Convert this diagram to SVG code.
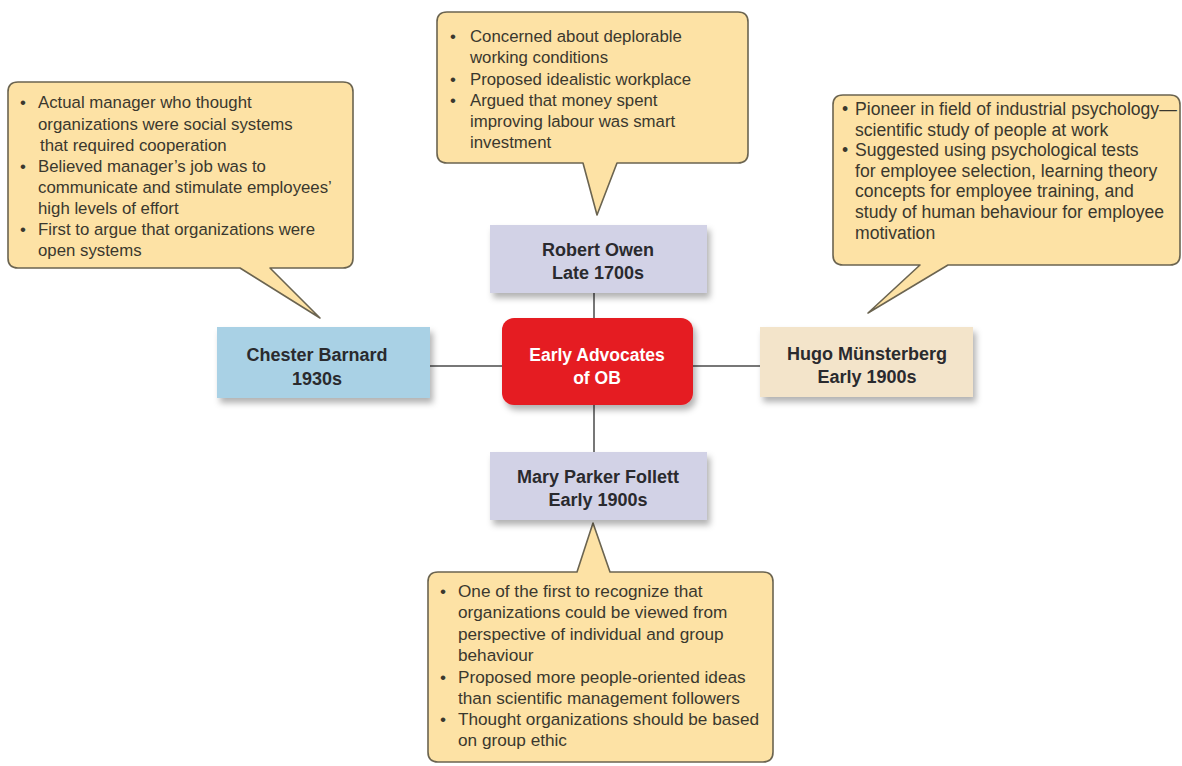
<svg xmlns="http://www.w3.org/2000/svg" width="1182" height="766" viewBox="0 0 1182 766">
<defs>
<filter id="sh" x="-10%" y="-10%" width="130%" height="140%">
<feDropShadow dx="3" dy="5" stdDeviation="3" flood-color="#000" flood-opacity="0.3"/>
</filter>
<style>
.callout{fill:#fde2a5;stroke:#6b6450;stroke-width:1.6;stroke-linejoin:round}
.ct{font-family:"Liberation Sans",Arial,sans-serif;font-size:16.8px;fill:#3a382e}
.nt{font-family:"Liberation Sans",Arial,sans-serif;font-size:18px;font-weight:bold;fill:#2a2a2e;text-anchor:middle}
.conn{stroke:#4a4a4a;stroke-width:1.5;fill:none}
</style>
</defs>
<rect width="1182" height="766" fill="#ffffff"/>

<g id="connectors">
<line class="conn" x1="430" y1="366" x2="502" y2="366"/>
<line class="conn" x1="693" y1="366" x2="760" y2="366"/>
<line class="conn" x1="594" y1="293" x2="594" y2="318"/>
<line class="conn" x1="594" y1="405" x2="594" y2="452"/>
</g>

<g id="callout-owen">
<path class="callout" d="M447,12 H738 Q748,12 748,22 V153 Q748,163 738,163 H617 L597,215 L583,163 H447 Q437,163 437,153 V22 Q437,12 447,12 Z"/>
<text class="ct"><tspan x="450" y="42">•</tspan><tspan x="470" y="42">Concerned about deplorable</tspan><tspan x="470" y="63">working conditions</tspan><tspan x="450" y="85">•</tspan><tspan x="470" y="85">Proposed idealistic workplace</tspan><tspan x="450" y="106">•</tspan><tspan x="470" y="106">Argued that money spent</tspan><tspan x="470" y="127">improving labour was smart</tspan><tspan x="470" y="148">investment</tspan></text>
</g>

<g id="callout-barnard">
<path class="callout" d="M18,82 H343 Q353,82 353,92 V258 Q353,268 343,268 H270 L320,318 L240,268 H18 Q8,268 8,258 V92 Q8,82 18,82 Z"/>
<text class="ct"><tspan x="20" y="108">•</tspan><tspan x="38" y="108">Actual manager who thought</tspan><tspan x="38" y="130">organizations were social systems</tspan><tspan x="40" y="151">that required cooperation</tspan><tspan x="20" y="172">•</tspan><tspan x="38" y="172">Believed manager’s job was to</tspan><tspan x="38" y="193">communicate and stimulate employees’</tspan><tspan x="38" y="214">high levels of effort</tspan><tspan x="20" y="235">•</tspan><tspan x="38" y="235">First to argue that organizations were</tspan><tspan x="38" y="256">open systems</tspan></text>
</g>

<g id="callout-munsterberg">
<path class="callout" d="M843,95 H1170 Q1180,95 1180,105 V255 Q1180,265 1170,265 H948 L868,313 L920,265 H843 Q833,265 833,255 V105 Q833,95 843,95 Z"/>
<text class="ct" style="font-size:17.6px"><tspan x="842" y="115">•</tspan><tspan x="855" y="115">Pioneer in field of industrial psychology—</tspan><tspan x="855" y="136">scientific study of people at work</tspan><tspan x="842" y="156">•</tspan><tspan x="855" y="156">Suggested using psychological tests</tspan><tspan x="855" y="177">for employee selection, learning theory</tspan><tspan x="855" y="197">concepts for employee training, and</tspan><tspan x="855" y="218">study of human behaviour for employee</tspan><tspan x="855" y="239">motivation</tspan></text>
</g>

<g id="callout-follett">
<path class="callout" d="M438,572 H577 L593,523 L610,572 H763 Q773,572 773,582 V752 Q773,762 763,762 H438 Q428,762 428,752 V582 Q428,572 438,572 Z"/>
<text class="ct" style="font-size:17.2px"><tspan x="440" y="597">•</tspan><tspan x="458" y="597">One of the first to recognize that</tspan><tspan x="458" y="618">organizations could be viewed from</tspan><tspan x="458" y="640">perspective of individual and group</tspan><tspan x="458" y="661">behaviour</tspan><tspan x="440" y="683">•</tspan><tspan x="458" y="683">Proposed more people-oriented ideas</tspan><tspan x="458" y="704">than scientific management followers</tspan><tspan x="440" y="725">•</tspan><tspan x="458" y="725">Thought organizations should be based</tspan><tspan x="458" y="746">on group ethic</tspan></text>
</g>

<g id="node-owen">
<rect x="490" y="225" width="217" height="68" fill="#d2d2e6" filter="url(#sh)"/>
<text class="nt" x="598" y="256">Robert Owen</text>
<text class="nt" x="598" y="279">Late 1700s</text>
</g>

<g id="node-center">
<rect x="502" y="318" width="191" height="87" rx="12" fill="#e51b24" filter="url(#sh)"/>
<text class="nt" x="597" y="361" style="fill:#ffffff;font-size:17.5px">Early Advocates</text>
<text class="nt" x="597" y="384" style="fill:#ffffff;font-size:17.5px">of OB</text>
</g>

<g id="node-barnard">
<rect x="217" y="327" width="213" height="71" fill="#a9d1e5" filter="url(#sh)"/>
<text class="nt" x="317" y="361">Chester Barnard</text>
<text class="nt" x="317" y="385">1930s</text>
</g>

<g id="node-munsterberg">
<rect x="760" y="327" width="213" height="70" fill="#f3e4ca" filter="url(#sh)"/>
<text class="nt" x="867" y="360">Hugo Münsterberg</text>
<text class="nt" x="867" y="383">Early 1900s</text>
</g>

<g id="node-follett">
<rect x="490" y="452" width="217" height="68" fill="#d2d2e6" filter="url(#sh)"/>
<text class="nt" x="598" y="483">Mary Parker Follett</text>
<text class="nt" x="598" y="506">Early 1900s</text>
</g>
</svg>
